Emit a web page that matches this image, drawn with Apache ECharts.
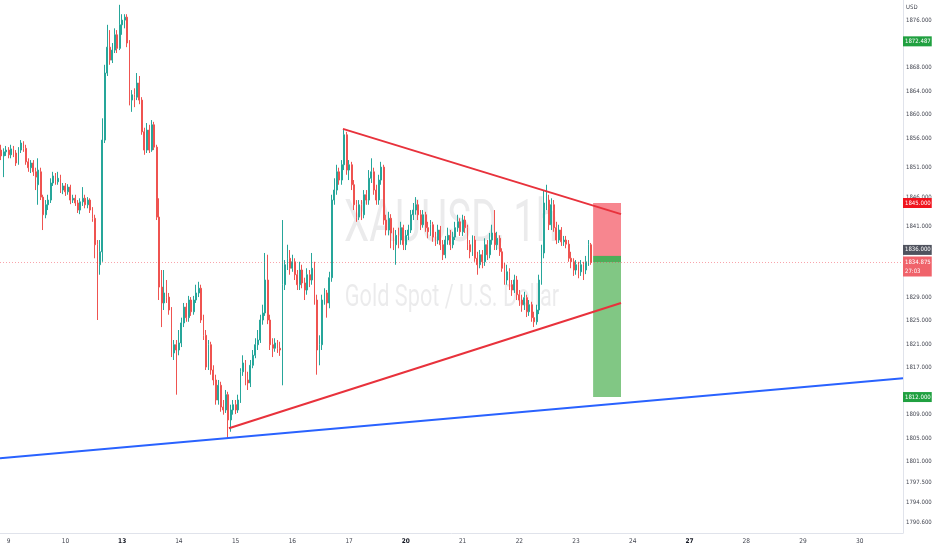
<!DOCTYPE html>
<html>
<head>
<meta charset="utf-8">
<script src="https://cdn.jsdelivr.net/npm/echarts@6/dist/echarts.min.js"></script>
<style>
html,body{margin:0;padding:0;background:#fff;}
#chart{width:932px;height:550px;}
</style>
</head>
<body>
<div id="chart"></div>
<script>
// ---- data ----
const dayLabels = ['9','10','13','14','15','16','17','20','21','22','23','24','27','28','29','30'];
const boldDays = ['13','20','27'];
const leadBars = 3;        // hourly bars of day 8 visible before day 9
const barsPerDay = 23;
const totalBars = 366;
// hourly candles: [open, close, low, high]
const candles = [
[1854.0,1853.0,1852.3,1854.9],[1853.0,1853.7,1849.4,1854.3],[1853.7,1854.0,1853.0,1854.7],[1854.0,1853.2,1852.6,1854.5],
[1853.2,1854.2,1852.6,1854.9],[1854.2,1853.5,1852.8,1854.7],[1853.5,1851.8,1851.3,1854.0],[1851.8,1854.0,1851.5,1854.5],
[1854.0,1855.2,1853.5,1855.7],[1855.2,1854.3,1853.7,1855.5],[1854.3,1852.0,1851.5,1854.9],[1852.0,1851.0,1850.3,1852.6],
[1851.0,1851.8,1850.1,1852.3],[1851.8,1850.3,1849.6,1852.3],[1850.3,1849.4,1847.2,1851.0],[1848.1,1850.6,1844.7,1852.6],
[1850.3,1846.0,1845.5,1851.0],[1846.0,1843.0,1840.4,1846.4],[1843.0,1844.7,1842.4,1845.5],[1844.7,1845.5,1843.8,1846.4],
[1845.5,1848.4,1845.0,1849.2],[1848.4,1849.6,1847.9,1850.3],[1849.6,1848.6,1848.1,1850.1],[1848.6,1849.2,1848.1,1850.3],
[1849.2,1847.2,1846.7,1849.8],[1847.2,1847.9,1846.5,1848.4],[1847.9,1846.9,1846.2,1848.4],[1846.9,1847.7,1846.4,1848.2],
[1847.7,1845.5,1844.8,1848.1],[1845.5,1845.8,1845.0,1846.4],[1845.8,1845.0,1844.5,1846.4],[1845.0,1843.8,1843.3,1845.5],
[1843.8,1845.2,1843.1,1845.8],[1845.2,1845.8,1844.5,1847.7],[1845.8,1844.7,1844.1,1846.4],[1844.7,1845.5,1844.1,1846.0],
[1845.5,1843.8,1843.3,1845.8],[1843.8,1842.4,1841.8,1844.3],[1842.4,1837.9,1835.6,1843.0],[1837.9,1834.5,1825.1,1838.7],
[1834.5,1836.7,1832.8,1838.7],[1836.7,1855.7,1835.0,1859.4],[1855.7,1867.1,1855.2,1868.5],[1867.1,1871.5,1866.6,1875.3],
[1871.5,1869.3,1868.5,1874.4],[1869.3,1871.0,1868.8,1872.2],[1871.0,1873.6,1870.5,1874.7],[1873.6,1871.3,1870.5,1874.4],
[1871.3,1875.3,1871.0,1878.7],[1875.3,1876.1,1873.6,1877.1],[1876.1,1876.6,1874.7,1877.1],[1876.6,1872.2,1871.5,1877.1],
[1872.2,1862.5,1861.6,1872.7],[1862.5,1863.4,1860.5,1864.2],[1863.4,1863.0,1861.3,1864.5],[1863.0,1865.4,1862.5,1867.1],
[1865.4,1862.5,1861.8,1866.6],[1862.5,1857.1,1856.6,1863.0],[1857.1,1854.0,1853.2,1857.8],[1854.0,1857.4,1853.5,1858.6],
[1857.4,1854.0,1853.5,1858.3],[1854.0,1858.3,1853.7,1859.1],[1858.3,1854.5,1854.0,1858.8],[1854.5,1842.6,1842.1,1854.9],
[1842.6,1830.7,1828.5,1845.8],[1830.7,1828.0,1823.9,1833.6],[1828.0,1829.7,1826.8,1833.6],[1829.7,1829.0,1828.0,1831.9],
[1829.0,1826.8,1826.0,1829.7],[1826.8,1819.5,1818.8,1827.3],[1819.5,1820.9,1818.3,1821.7],[1820.9,1820.0,1812.4,1821.7],
[1820.0,1821.2,1819.1,1823.4],[1821.2,1824.6,1820.5,1825.5],[1824.6,1827.3,1823.9,1828.0],[1827.3,1825.5,1824.8,1828.0],
[1825.5,1828.5,1824.8,1829.2],[1828.5,1826.5,1825.8,1829.0],[1826.5,1828.5,1826.0,1829.2],[1828.5,1829.7,1828.0,1831.1],
[1829.7,1830.5,1829.0,1831.6],[1830.5,1825.1,1824.6,1831.1],[1825.1,1822.5,1821.7,1826.0],[1822.5,1817.1,1816.6,1823.4],
[1817.1,1820.9,1816.6,1821.7],[1820.9,1816.6,1815.8,1821.4],[1816.6,1814.9,1814.0,1817.4],[1814.9,1811.5,1810.7,1815.8],
[1811.5,1814.0,1810.7,1814.9],[1814.0,1810.3,1809.5,1814.6],[1810.3,1809.8,1809.0,1811.5],[1809.8,1812.4,1809.3,1813.2],
[1812.4,1808.1,1805.0,1812.9],[1808.1,1809.8,1806.1,1810.7],[1809.8,1810.7,1809.0,1811.5],[1810.7,1809.8,1809.1,1811.5],
[1809.8,1811.5,1809.3,1812.4],[1811.5,1816.3,1811.0,1816.9],[1816.3,1817.8,1815.6,1819.1],[1817.8,1814.9,1814.0,1818.3],
[1814.9,1814.4,1813.2,1816.3],[1814.4,1817.4,1813.7,1818.3],[1817.4,1819.1,1816.9,1820.0],[1819.1,1820.9,1818.6,1822.0],
[1820.9,1821.7,1820.0,1823.4],[1821.7,1825.1,1821.2,1826.0],[1825.1,1826.3,1824.3,1827.7],[1826.3,1831.9,1825.8,1836.5],
[1831.9,1825.1,1824.4,1836.2],[1825.1,1820.9,1820.0,1826.0],[1820.9,1820.3,1818.8,1822.0],[1820.3,1821.2,1819.7,1822.0],
[1821.2,1820.3,1819.5,1821.7],[1820.3,1820.0,1819.0,1821.4],[1820.0,1831.1,1814.0,1842.1],[1831.1,1834.5,1830.2,1835.3],
[1834.5,1835.6,1833.6,1837.9],[1835.6,1833.9,1832.8,1837.0],[1833.9,1835.0,1833.3,1836.2],[1835.0,1832.8,1831.9,1835.6],
[1832.8,1831.1,1830.2,1833.6],[1831.1,1833.6,1830.2,1835.0],[1833.6,1831.4,1830.5,1834.5],[1831.4,1830.2,1828.5,1832.3],
[1830.2,1832.8,1829.4,1833.9],[1832.8,1831.9,1830.7,1833.6],[1831.9,1833.9,1831.1,1836.5],[1833.9,1828.5,1827.7,1835.0],
[1828.5,1820.0,1815.8,1829.4],[1820.0,1820.9,1817.4,1822.5],[1820.9,1828.5,1820.0,1829.4],[1828.5,1829.7,1827.7,1830.5],
[1829.7,1828.0,1825.5,1830.2],[1828.0,1832.3,1827.1,1833.3],[1832.3,1845.5,1831.6,1846.4],[1845.5,1847.2,1844.7,1849.2],
[1847.2,1850.3,1846.4,1851.5],[1850.3,1848.9,1848.1,1851.0],[1848.9,1851.5,1848.1,1852.3],[1851.5,1856.6,1850.6,1857.4],
[1856.6,1850.6,1849.8,1857.1],[1850.6,1851.5,1848.9,1852.3],[1851.5,1848.1,1847.2,1852.0],[1848.1,1844.7,1843.8,1848.9],
[1844.7,1842.6,1841.8,1845.5],[1842.6,1844.7,1842.1,1845.5],[1844.7,1843.0,1842.1,1845.5],[1843.0,1846.4,1842.4,1847.2],
[1846.4,1845.5,1844.7,1847.2],[1845.5,1849.2,1844.7,1850.6],[1849.2,1850.3,1848.4,1852.6],[1850.3,1847.2,1846.4,1851.0],
[1847.2,1845.5,1844.7,1848.1],[1845.5,1848.9,1844.7,1849.8],[1848.9,1851.1,1848.1,1852.0],[1851.1,1842.1,1841.3,1851.5],
[1842.1,1840.4,1839.5,1843.0],[1840.4,1842.4,1839.5,1843.5],[1842.4,1839.9,1837.3,1843.1],[1839.9,1837.9,1837.0,1840.8],
[1837.9,1839.5,1834.5,1840.4],[1839.5,1838.7,1837.3,1840.8],[1838.7,1840.8,1837.9,1841.8],[1840.8,1837.9,1837.0,1841.3],
[1837.9,1839.5,1837.0,1840.4],[1839.5,1840.4,1838.7,1841.3],[1840.4,1843.0,1839.9,1843.8],[1843.0,1843.8,1842.1,1845.0],
[1843.8,1844.7,1843.0,1846.0],[1844.7,1843.0,1842.1,1845.5],[1843.0,1841.3,1840.4,1843.8],[1841.3,1843.0,1840.8,1843.8],
[1843.0,1840.8,1840.1,1843.5],[1840.8,1840.1,1839.0,1841.8],[1840.1,1841.3,1839.4,1842.1],[1841.3,1839.2,1838.4,1841.8],
[1839.2,1838.7,1837.7,1840.1],[1838.7,1840.4,1838.0,1841.3],[1840.4,1837.9,1837.0,1841.1],[1837.9,1836.2,1835.3,1838.7],
[1836.2,1838.7,1835.6,1839.4],[1838.7,1839.5,1837.9,1840.8],[1839.5,1837.9,1837.0,1840.4],[1837.9,1839.2,1837.3,1840.1],
[1839.2,1840.8,1838.7,1841.8],[1840.8,1841.8,1840.1,1843.0],[1841.8,1840.1,1839.4,1842.4],[1840.1,1842.1,1839.4,1843.0],
[1842.1,1840.8,1839.9,1842.8],[1840.8,1837.9,1837.0,1841.3],[1837.9,1836.7,1835.6,1838.7],[1836.7,1838.7,1836.0,1839.5],
[1838.7,1835.6,1835.0,1839.4],[1835.6,1834.5,1832.8,1836.7],[1834.5,1836.2,1833.9,1837.0],[1836.2,1835.0,1833.9,1837.0],
[1835.0,1837.9,1834.3,1839.0],[1837.9,1836.2,1835.3,1838.7],[1836.2,1838.7,1835.6,1839.9],[1838.7,1839.9,1837.9,1841.3],
[1839.9,1837.9,1837.0,1843.8],[1837.9,1839.0,1837.0,1840.1],[1839.0,1836.7,1836.0,1839.5],[1836.7,1833.9,1833.3,1837.3],
[1833.9,1831.9,1831.1,1834.8],[1831.9,1833.3,1831.1,1834.5],[1833.3,1831.1,1830.2,1833.9],[1831.1,1830.2,1829.2,1831.9],
[1830.2,1831.9,1829.7,1832.8],[1831.9,1829.4,1828.5,1832.6],[1829.4,1828.5,1827.5,1830.2],[1828.5,1827.7,1826.5,1829.4],
[1827.7,1828.9,1826.8,1829.9],[1828.9,1826.5,1825.6,1829.4],[1826.5,1827.7,1825.8,1828.5],[1827.7,1825.5,1824.8,1828.2],
[1825.5,1824.8,1823.9,1826.5],[1824.8,1826.8,1824.3,1827.7],[1826.8,1831.9,1826.1,1832.8],[1831.9,1836.5,1831.1,1837.9],
[1836.5,1845.0,1835.6,1847.2],[1845.0,1845.5,1843.8,1848.1],[1845.5,1841.3,1840.4,1846.4],[1841.3,1844.7,1840.4,1845.8],
[1844.7,1840.8,1840.1,1845.5],[1840.8,1838.7,1838.0,1841.8],[1838.7,1840.4,1838.2,1841.3],[1840.4,1838.4,1837.7,1840.9],
[1838.4,1838.7,1837.7,1839.4],[1838.7,1838.0,1837.3,1839.4],[1838.0,1835.6,1835.0,1838.7],[1835.6,1835.0,1833.9,1836.7],
[1835.0,1833.6,1832.6,1835.6],[1833.6,1834.5,1832.8,1835.3],[1834.5,1833.3,1832.2,1835.0],[1833.3,1834.5,1832.6,1835.3],
[1834.5,1833.6,1831.9,1835.0],[1833.6,1835.0,1832.9,1836.0],[1835.0,1837.9,1834.3,1838.7],[1837.9,1834.875,1834.5,1838.2]
];
const yTickValues = [1876,1868,1864,1860,1856,1851,1846,1841,1829,1825,1821,1817,1809,1805,1801,1797.5,1794,1790.6];
const yMin = 1788.88, yMax = 1879.52;
// drawings: [barPosition, price]
const upperTrend = [[139.0,1857.6],[251.7,1843.1]];
const lowerTrend = [[92.8,1806.7],[251.7,1828.0]];
const blueTrend = [[0,1801.6],[366,1815.2]];
const position = {start:240.4, end:251.7, stop:1845.0, entry:1836.0, current:1834.875, target:1812.0};
const priceTags = [
  {value:1872.487, color:'#20a040', dy:0},
  {value:1845.0, color:'#f0141e', dy:0},
  {value:1836.0, color:'#50535e', dy:-6},
  {value:1812.0, color:'#20a040', dy:0}
];
const countdown = '27:03';

// ---- categories ----
const cats = [];
for (let i = 0; i < totalBars; i++) {
  let day, hr;
  if (i < leadBars) { day = '8'; hr = 20 + i; }
  else { const k = Math.floor((i - leadBars) / barsPerDay); day = dayLabels[k] || '31'; hr = (i - leadBars) % barsPerDay; }
  cats.push(day + ' ' + String(hr).padStart(2, '0') + ':00');
}
const isDayStart = i => i >= leadBars && (i - leadBars) % barsPerDay === 0;

const axisFont = '"Liberation Sans Narrow","DejaVu Sans Condensed","Liberation Sans",sans-serif';

const chart = echarts.init(document.getElementById('chart'));
const tagLines = priceTags.map(t => ({
  yAxis: t.value,
  lineStyle: {color: 'rgba(0,0,0,0)', width: 1},
  label: {show: true, position: 'end', distance: 0, offset: [0, t.dy], formatter: t.value.toFixed(3),
    backgroundColor: t.color, color: '#fff', fontSize: 6, fontFamily: axisFont, padding: [2, 1, 2, 2]}
}));
tagLines.push({
  yAxis: position.current,
  lineStyle: {color: 'rgba(242,54,69,0.45)', type: [1, 2], width: 1},
  label: {show: true, position: 'end', distance: 0, offset: [0, 4],
    formatter: position.current.toFixed(3) + '\n' + countdown,
    backgroundColor: '#f0636b', color: '#fff', fontSize: 6, lineHeight: 9, fontFamily: axisFont, padding: [1, 1, 1, 2]}
});

chart.setOption({
  animation: false,
  backgroundColor: '#ffffff',
  grid: {left: 0, right: 29, top: 0, bottom: 17, containLabel: false, outerBoundsMode: 'none'},
  xAxis: [{
    type: 'category', data: cats, boundaryGap: true,
    axisLine: {show: true, onZero: false, lineStyle: {color: '#e0e3eb'}},
    axisTick: {show: false},
    splitLine: {show: false},
    axisLabel: {
      interval: (idx) => isDayStart(idx),
      margin: 5, fontSize: 6.5, fontFamily: axisFont, color: '#434651',
      formatter: (v) => { const d = v.split(' ')[0]; return boldDays.includes(d) ? '{b|' + d + '}' : d; },
      rich: {b: {fontWeight: 'bold', fontSize: 6.5, fontFamily: axisFont, color: '#131722'}}
    }
  }, {
    type: 'value', min: 0, max: totalBars, show: false
  }],
  yAxis: {
    type: 'value', position: 'right', min: yMin, max: yMax, scale: true,
    axisLine: {show: true, onZero: false, lineStyle: {color: '#e0e3eb'}},
    axisTick: {show: false},
    splitLine: {show: false},
    axisLabel: {customValues: yTickValues, fontSize: 6, fontFamily: axisFont, color: '#434651', margin: 3,
      formatter: v => Number(v).toFixed(3)}
  },
  graphic: [
    {type: 'text', z: 0, silent: true, x: 451, y: 256, scaleX: 0.67,
      style: {text: 'XAUUSD, 1h', fontSize: 60, fontFamily: 'Roboto', fill: 'rgba(19,23,34,0.085)', align: 'center', verticalAlign: 'bottom'}},
    {type: 'text', z: 0, silent: true, x: 452, y: 314, scaleX: 0.70,
      style: {text: 'Gold Spot / U.S. Dollar', fontSize: 31, fontFamily: 'Roboto', fill: 'rgba(19,23,34,0.085)', align: 'center', verticalAlign: 'bottom'}},
    {type: 'text', left: 906, top: 4, style: {text: 'USD', fontSize: 6, fontFamily: axisFont, fill: '#434651'}}
  ],
  series: [
    {
      type: 'candlestick', data: candles, barWidth: '55%', z: 3,
      itemStyle: {color: '#26a69a', color0: '#ef5350', borderColor: '#26a69a', borderColor0: '#ef5350', borderWidth: 1},
      markLine: {symbol: ['none', 'none'], silent: true, animation: false, data: tagLines}
    },
    {
      type: 'line', xAxisIndex: 1, data: blueTrend, symbol: 'none', z: 4,
      lineStyle: {color: '#2962ff', width: 2}
    },
    {
      type: 'line', xAxisIndex: 1, data: upperTrend, symbol: 'none', z: 4,
      lineStyle: {color: '#e8323c', width: 2}
    },
    {
      type: 'line', xAxisIndex: 1, data: lowerTrend, symbol: 'none', z: 4,
      lineStyle: {color: '#e8323c', width: 2}
    },
    {
      type: 'line', xAxisIndex: 1, data: [], symbol: 'none', z: 5,
      markArea: {silent: true, data: [
        [{coord: [position.start, position.stop], itemStyle: {color: 'rgba(242,54,69,0.6)'}}, {coord: [position.end, position.entry]}],
        [{coord: [position.start, position.entry], itemStyle: {color: 'rgba(46,160,60,0.85)'}}, {coord: [position.end, position.current]}],
        [{coord: [position.start, position.current], itemStyle: {color: 'rgba(76,175,80,0.7)'}}, {coord: [position.end, position.target]}]
      ]}
    }
  ]
});
</script>
</body>
</html>
